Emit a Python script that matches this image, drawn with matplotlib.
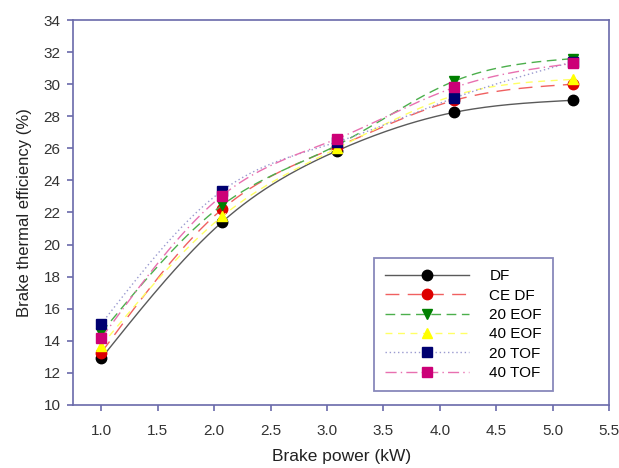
import numpy as np
import matplotlib
matplotlib.use("Agg")
from matplotlib import pyplot as plt

plt.rcParams['font.family'] = ['Liberation Sans', 'DejaVu Sans']

# brake power (kW)
power = [1.0, 2.07, 3.09, 4.13, 5.18]

# brake thermal efficiency (%)
df = [12.9, 21.4, 25.85, 28.25, 29.0]
ce_df = [13.25, 22.2, 26.1, 29.0, 30.0]
eof20 = [14.5, 22.45, 26.2, 30.2, 31.6]
eof40 = [13.7, 21.75, 26.0, 29.3, 30.3]
tof20 = [15.05, 23.35, 26.4, 29.15, 31.4]
tof40 = [14.15, 23.05, 26.6, 29.8, 31.3]

labels = ['DF', 'CE DF', '20 EOF', '40 EOF', '20 TOF', '40 TOF']
series = [df, ce_df, eof20, eof40, tof20, tof40]


def spline(x, y, n=200):
    # natural cubic spline, only used to draw the smooth line between the points
    x = np.asarray(x, float)
    y = np.asarray(y, float)
    k = len(x)
    h = np.diff(x)
    A = np.zeros((k, k))
    b = np.zeros(k)
    A[0, 0] = 1
    A[-1, -1] = 1
    for i in range(1, k - 1):
        A[i, i - 1] = h[i - 1]
        A[i, i] = 2 * (h[i - 1] + h[i])
        A[i, i + 1] = h[i]
        b[i] = 3 * ((y[i + 1] - y[i]) / h[i] - (y[i] - y[i - 1]) / h[i - 1])
    c = np.linalg.solve(A, b)
    xs = np.linspace(x[0], x[-1], n)
    ys = np.empty_like(xs)
    for j, xv in enumerate(xs):
        i = min(np.searchsorted(x, xv, side='right') - 1, k - 2)
        d = xv - x[i]
        bb = (y[i + 1] - y[i]) / h[i] - h[i] * (2 * c[i] + c[i + 1]) / 3
        dd = (c[i + 1] - c[i]) / (3 * h[i])
        ys[j] = y[i] + bb * d + c[i] * d ** 2 + dd * d ** 3
    return xs, ys


line_cols = ['#5a5a5a', '#f06060', '#4caf4c', '#ffff66', '#9a9ad0', '#e870b0']
mark_cols = ['black', '#dd0000', '#008000', '#ffff00', '#000070', '#cc0077']
markers = ['o', 'o', 'v', '^', 's', 's']
styles = ['-', (0, (10, 6)), (0, (7, 4)), (0, (5, 4)), (0, (1, 2)), (0, (8, 3, 1, 3))]

fig = plt.figure(figsize=(6.19, 4.68), dpi=100)
ax = fig.add_axes([0.118, 0.135, 0.866, 0.822])

handles = []
for ys, lab, lc, mc, m, ls in zip(series, labels, line_cols, mark_cols, markers, styles):
    sx, sy = spline(power, ys)
    ax.plot(sx, sy, color=lc, linestyle=ls, linewidth=1)
    ax.plot(power, ys, linestyle='none', marker=m, color=mc, markersize=7.5)
    h, = ax.plot([], [], color=lc, linestyle=ls, linewidth=1, marker=m,
                 markerfacecolor=mc, markeredgecolor=mc, markersize=7.5, label=lab)
    handles.append(h)

ax.set_xlim(0.75, 5.5)
ax.set_ylim(10, 34)
ax.set_xticks(np.arange(1.0, 5.51, 0.5))
ax.set_yticks(np.arange(10, 35, 2))
ax.xaxis.set_major_formatter(plt.FormatStrFormatter('%.1f'))

axcol = '#6a6aaa'
for s in ax.spines.values():
    s.set_color(axcol)
    s.set_linewidth(1.2)
ax.tick_params(colors=axcol, labelcolor='#333333', labelsize=11, length=4.5, width=1.2)
ax.tick_params(axis='x', pad=9)
ax.tick_params(axis='y', pad=4.5)

ax.set_xlabel('Brake power (kW)', fontsize=12.5, color='#222222', labelpad=8)
ax.set_ylabel('Brake thermal efficiency (%)', fontsize=12, color='#222222', labelpad=8)

leg = ax.legend(handles=handles, loc='lower right', bbox_to_anchor=(0.895, 0.036),
                frameon=True, fancybox=False, fontsize=11, handlelength=5.5,
                labelspacing=0.35, borderpad=0.72, handletextpad=1.35, borderaxespad=0)
leg.get_frame().set_edgecolor(axcol)
leg.get_frame().set_linewidth(1.3)

fig.savefig('out.png', dpi=100)
